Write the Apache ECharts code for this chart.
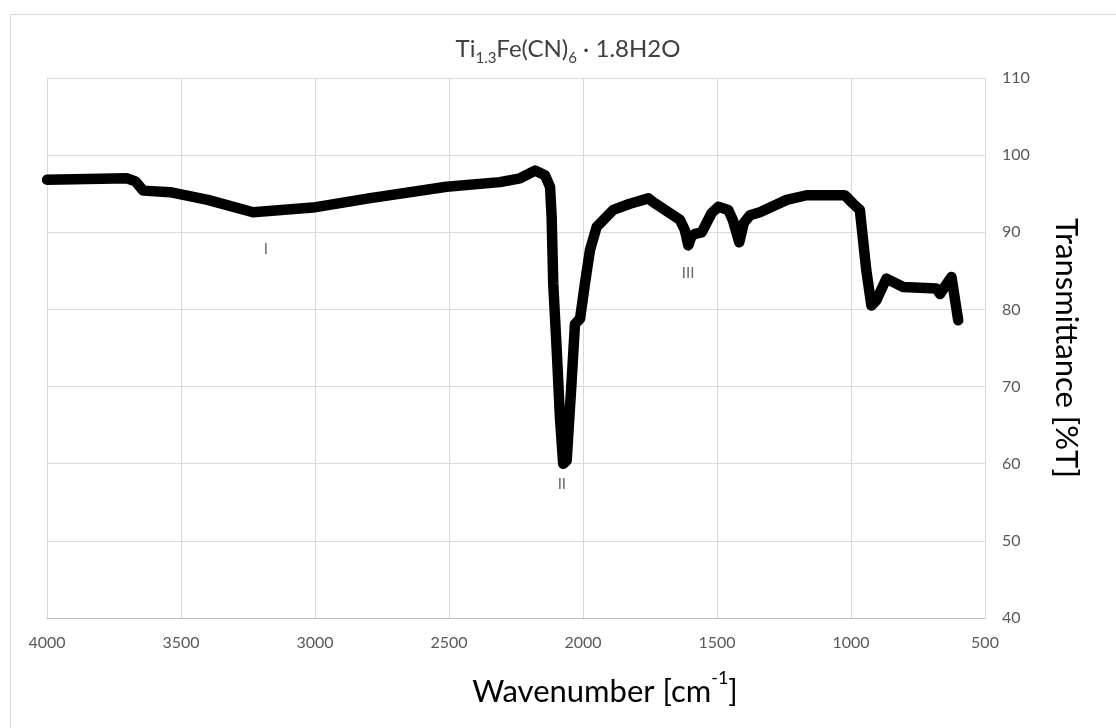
<!DOCTYPE html>
<html>
<head>
<meta charset="utf-8">
<script src="https://cdn.jsdelivr.net/npm/echarts@6/dist/echarts.min.js"></script>
<style>html,body{margin:0;padding:0;background:#fff;}#c{width:1116px;height:728px;}</style>
</head>
<body>
<div id="c"></div>
<script>
// Wavenumber (cm^-1) and transmittance (%T)
var wavenumbers = [4000, 3850, 3703, 3670, 3641, 3541, 3400, 3231, 3008, 2800, 2509, 2310, 2235, 2179, 2142, 2123, 2117, 2111, 2098, 2086, 2074, 2061, 2043, 2030, 2011, 1993, 1974, 1949, 1887, 1825, 1756, 1738, 1638, 1620, 1607, 1595, 1582, 1557, 1520, 1495, 1458, 1440, 1417, 1400, 1377, 1340, 1240, 1166, 1023, 992, 967, 943, 924, 905, 868, 805, 681, 668, 645, 625, 600];
var transmittance = [96.8, 96.9, 97.0, 96.6, 95.4, 95.2, 94.2, 92.6, 93.2, 94.4, 95.9, 96.5, 97.0, 98.0, 97.4, 95.9, 92.0, 83.3, 74.7, 66.0, 60.0, 60.4, 70.4, 78.1, 78.8, 83.3, 87.7, 90.7, 92.9, 93.7, 94.4, 93.9, 91.6, 90.3, 88.3, 89.5, 89.8, 90.0, 92.5, 93.3, 92.9, 91.5, 88.7, 91.2, 92.2, 92.6, 94.2, 94.8, 94.8, 93.7, 92.9, 85.1, 80.5, 81.2, 84.0, 82.9, 82.7, 82.0, 83.2, 84.2, 78.6];
// Peak annotations
var peakLabels = ['I', 'II', 'III'];
var peakX = [3183, 2079, 1608];
var peakY = [87.8, 57.4, 84.7];
var xTicks = [4000, 3500, 3000, 2500, 2000, 1500, 1000, 500];
var yTicks = [40, 50, 60, 70, 80, 90, 100, 110];

var lineData = wavenumbers.map(function (w, i) { return [w, transmittance[i]]; });
var labelData = peakLabels.map(function (l, i) { return { value: [peakX[i], peakY[i]], name: l }; });

var font = 'Lato, "Open Sans", sans-serif';
var chart = echarts.init(document.getElementById('c'), null, { renderer: 'canvas' });
chart.setOption({
  animation: false,
  backgroundColor: '#fff',
  graphic: [{
    type: 'rect', left: 8, top: 12, silent: true,
    shape: { width: 1200, height: 800 },
    style: { fill: 'none', stroke: '#d9d9d9', lineWidth: 1 }
  }, {
    type: 'text', x: 605, y: 688, silent: true,
    style: {
      text: '{n|Wavenumber [cm}{s|-1}{n|]}',
      align: 'center', verticalAlign: 'middle',
      rich: {
        n: { fontFamily: font, fontSize: 31, fill: '#000', verticalAlign: 'bottom', lineHeight: 38 },
        s: { fontFamily: font, fontSize: 18, fill: '#000', verticalAlign: 'top', lineHeight: 38, padding: [0, 0, 17, 0] }
      }
    }
  }],
  title: {
    text: '{n|Ti}{s|1.3}{n|Fe(CN)}{s|6}{n| · 1.8H2O}',
    left: 563, top: 25, textAlign: 'center',
    textStyle: {
      fontWeight: 'normal',
      rich: {
        n: { fontFamily: font, fontSize: 24, fontWeight: 'normal', color: '#404040', verticalAlign: 'bottom', lineHeight: 31 },
        s: { fontFamily: font, fontSize: 15, fontWeight: 'normal', color: '#404040', verticalAlign: 'bottom', lineHeight: 23, padding: [0, 0, -5, 0] }
      }
    }
  },
  grid: { left: 47, right: 131, top: 78, bottom: 110, containLabel: false },
  xAxis: {
    type: 'value', inverse: true, min: 500, max: 4000, interval: 500,
    axisLine: { show: true, lineStyle: { color: '#bfbfbf', width: 1 } },
    axisTick: { show: false },
    splitLine: { show: true, lineStyle: { color: '#d9d9d9', width: 1 } },
    axisLabel: { color: '#595959', fontFamily: font, fontSize: 16, margin: 17, formatter: function (v) { return String(v); } }
  },
  yAxis: {
    type: 'value', position: 'right', min: 40, max: 110, interval: 10,
    name: 'Transmittance [%T]', nameLocation: 'middle', nameGap: 65, nameRotate: -90,
    nameTextStyle: { fontFamily: font, fontSize: 31, color: '#000' },
    axisLine: { show: true, lineStyle: { color: '#d9d9d9', width: 1 } },
    axisTick: { show: false },
    splitLine: { show: true, lineStyle: { color: '#d9d9d9', width: 1 } },
    axisLabel: { color: '#595959', fontFamily: font, fontSize: 16, margin: 17 }
  },
  series: [{
    type: 'line', data: lineData, showSymbol: false, smooth: false,
    lineStyle: { color: '#000', width: 10.5, cap: 'round', join: 'round' },
    z: 3
  }, {
    type: 'scatter', data: labelData, symbolSize: 0,
    label: {
      show: true, position: 'inside', formatter: '{b}',
      fontFamily: font, fontSize: 15, color: '#404040'
    },
    z: 4
  }]
});
</script>
</body>
</html>
